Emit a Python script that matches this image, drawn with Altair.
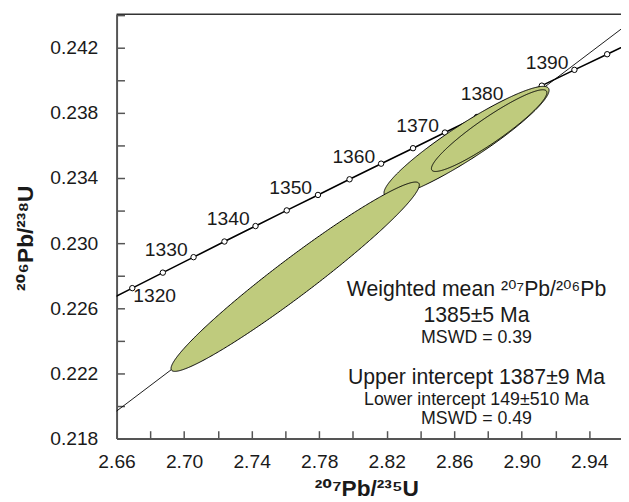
import altair as alt
import numpy as np
import pandas as pd

# ---- concordia ages (Ma) and their ratios ----
conc_age = [1315, 1320, 1325, 1330, 1335, 1340, 1345, 1350, 1355, 1360,
            1365, 1370, 1375, 1380, 1385, 1390, 1395, 1400]
conc_x = [2.6513, 2.6693, 2.6874, 2.7056, 2.7239, 2.7423, 2.7608, 2.7793, 2.7980,
          2.8167, 2.8356, 2.8545, 2.8735, 2.8927, 2.9119, 2.9312, 2.9506, 2.9701]
conc_y = [0.22629, 0.22724, 0.22819, 0.22914, 0.23010, 0.23105, 0.23201, 0.23296,
          0.23392, 0.23488, 0.23583, 0.23679, 0.23775, 0.23871, 0.23967, 0.24064,
          0.24160, 0.24256]
label_ages = [1320, 1330, 1340, 1350, 1360, 1370, 1380, 1390]

# ---- discordia (regression line) ----
disc_x = [2.64, 2.98]
disc_y = [0.21812, 0.24480]

# ---- error ellipses: centre, half-widths, correlation ----
ell_name = ["mid", "inner", "big"]
ell_x = [2.8673, 2.8807, 2.7658]
ell_y = [0.23624, 0.23691, 0.22794]
ell_sx = [0.04888, 0.03419, 0.07354]
ell_sy = [0.003387, 0.002508, 0.005812]
ell_rho = [0.9287, 0.9290, 0.9690]

# ---- axes ----
x_labels = [2.66, 2.70, 2.74, 2.78, 2.82, 2.86, 2.90, 2.94]
x_ticks = [2.66, 2.68, 2.70, 2.72, 2.74, 2.76, 2.78, 2.80, 2.82, 2.84, 2.86,
           2.88, 2.90, 2.92, 2.94]
y_labels = [0.218, 0.222, 0.226, 0.230, 0.234, 0.238, 0.242]
y_ticks = [0.218, 0.220, 0.222, 0.224, 0.226, 0.228, 0.230, 0.232, 0.234,
           0.236, 0.238, 0.240, 0.242, 0.244]
x_title = "²⁰⁷Pb/²³⁵U"
y_title = "²⁰⁶Pb/²³⁸U"

notes = ["Weighted mean ²⁰⁷Pb/²⁰⁶Pb", "1385±5 Ma", "MSWD = 0.39",
         "Upper intercept 1387±9 Ma", "Lower intercept 149±510 Ma", "MSWD = 0.49"]

FONT = "Liberation Sans, Arial, DejaVu Sans, sans-serif"
TXT = "#1a1a1a"
AX = "#555555"
FILL = "#bfcb7d"
W, H = 511, 430

xs = alt.Scale(domain=[2.66, 2.9588], nice=False, zero=False)
ys = alt.Scale(domain=[0.218, 0.24406], nice=False, zero=False)


def X(f, axis=None):
    return alt.X(f, type="quantitative", scale=xs, axis=axis)


def Y(f, axis=None):
    return alt.Y(f, type="quantitative", scale=ys, axis=axis)


ax_x_main = alt.Axis(orient="bottom", values=x_labels, format=".2f", ticks=False, tickSize=0,
                     domainColor=AX, domainWidth=2, grid=False, labelFlush=False,
                     labelOverlap=False, labelFont=FONT, labelFontSize=19.5, labelColor=TXT,
                     labelPadding=14, title=x_title, titleFont=FONT, titleFontSize=23,
                     titleFontWeight="bold", titleColor=TXT, titleBaseline="alphabetic",
                     titleAlign="center", titleX=253, titleY=58)
ax_y_main = alt.Axis(orient="left", values=y_labels, format=".3f", ticks=False, tickSize=0,
                     domainColor=AX, domainWidth=2, grid=False, labelFlush=False,
                     labelOverlap=False, labelFont=FONT, labelFontSize=19.5, labelColor=TXT,
                     labelPadding=19, title=None)
ax_x_ticks = alt.Axis(orient="top", offset=-H, values=x_ticks, labels=False, domain=False,
                      ticks=True, tickSize=8, tickColor=AX, tickWidth=1.5, grid=False, title=None)
ax_y_ticks = alt.Axis(orient="right", offset=-W, values=y_ticks, labels=False, domain=False,
                      ticks=True, tickSize=8, tickColor=AX, tickWidth=1.5, grid=False, title=None)

conc = pd.DataFrame({"age": conc_age, "x": conc_x, "y": conc_y})
disc = pd.DataFrame({"x": disc_x, "y": disc_y})
dummy = pd.DataFrame({"k": [0]})

frame = alt.Chart(dummy).mark_rule(color="#333333", strokeWidth=1.5).encode(
    x=alt.value(0), x2=alt.value(W), y=alt.value(0))

ytitle = alt.Chart(dummy).mark_text(text=y_title, angle=270, align="center",
                                    baseline="alphabetic", fontSize=23, fontWeight="bold",
                                    font=FONT, color=TXT).encode(
    x=alt.value(-85), y=alt.value(227))

disc_line = alt.Chart(disc).mark_line(color="black", strokeWidth=0.9, clip=True).encode(
    x=X("x", ax_x_ticks), y=Y("y", ax_y_ticks))

conc_line = alt.Chart(conc).mark_line(color="black", strokeWidth=1.6, clip=True).encode(
    x=X("x", ax_x_main), y=Y("y", ax_y_main), order="age:Q")

conc_pts = alt.Chart(conc).mark_point(shape="circle", filled=True, fill="white", stroke="black",
                                      strokeWidth=1, size=30, opacity=1, clip=True).encode(
    x=X("x"), y=Y("y"))

labs = alt.Chart(conc).transform_filter(
    alt.FieldOneOfPredicate(field="age", oneOf=label_ages[1:])
).mark_text(align="right", baseline="alphabetic", dx=-6, dy=-1, fontSize=19.5, font=FONT,
            color=TXT).encode(x=X("x"), y=Y("y"), text=alt.Text("age:Q", format="d"))

lab_first = alt.Chart(conc).transform_filter(
    alt.FieldEqualPredicate(field="age", equal=label_ages[0])
).mark_text(align="left", baseline="alphabetic", dx=1, dy=14, fontSize=19.5, font=FONT,
            color=TXT).encode(x=X("x"), y=Y("y"), text=alt.Text("age:Q", format="d"))

theta = np.linspace(0, np.pi, 241)
ell_layers = []
for i in range(len(ell_name)):
    r = ell_rho[i]
    q = np.sqrt(1 - r * r)
    df = pd.DataFrame({
        "x": ell_x[i] + ell_sx[i] * np.cos(theta),
        "ylo": ell_y[i] + ell_sy[i] * (r * np.cos(theta) - q * np.sin(theta)),
        "yhi": ell_y[i] + ell_sy[i] * (r * np.cos(theta) + q * np.sin(theta)),
    })
    ell_layers.append(
        alt.Chart(df).mark_area(fill=FILL, stroke="black", strokeWidth=1, opacity=1,
                                fillOpacity=1).encode(
            x=X("x"), y=Y("ylo"), y2=alt.Y2("yhi"))
    )


def note(text, yv, size):
    return alt.Chart(dummy).mark_text(align="center", baseline="alphabetic", fontSize=size,
                                      font=FONT, color=TXT, text=text).encode(
        x=alt.XDatum(2.8732, type="quantitative", scale=xs, axis=None),
        y=alt.YDatum(yv, type="quantitative", scale=ys, axis=None))


note_layers = [
    note(notes[0], 0.22673, 21.5),
    note(notes[1], 0.22515, 21.5),
    note(notes[2], 0.22388, 18),
    note(notes[3], 0.22136, 21.5),
    note(notes[4], 0.22009, 18),
    note(notes[5], 0.21888, 18),
]

chart = alt.layer(
    frame, ytitle, disc_line, conc_line, conc_pts, labs, lab_first, *ell_layers, *note_layers
).resolve_axis(x="independent", y="independent").properties(
    width=W, height=H,
    autosize=alt.AutoSizeParams(type="none"),
    padding={"left": 110, "top": 3, "right": 0, "bottom": 62},
).configure_view(stroke=None)

chart.save("out.html", embed_options={"renderer": "svg", "actions": False})
